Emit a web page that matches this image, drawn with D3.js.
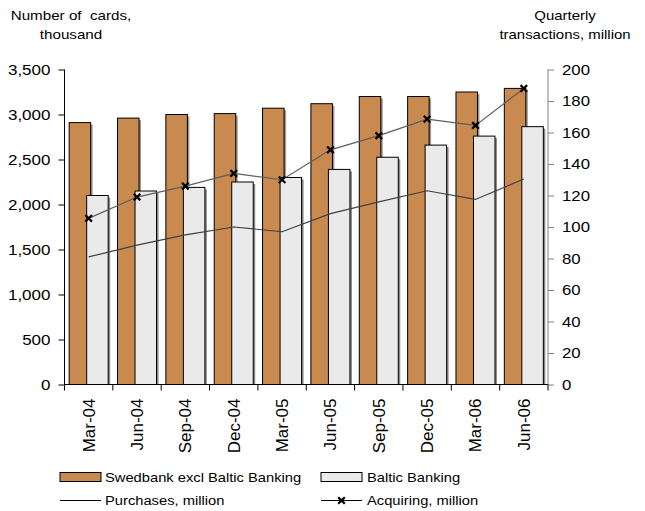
<!DOCTYPE html>
<html>
<head>
<meta charset="utf-8">
<script src="https://cdn.jsdelivr.net/npm/d3@7"></script>
<style>
  html, body { margin: 0; padding: 0; background: #fff; }
  svg { display: block; font-family: "Liberation Sans", Arial, sans-serif; }
</style>
</head>
<body>
<svg id="chart" width="645" height="511"></svg>
<script>
// Quarterly card data
const categories = ["Mar-04", "Jun-04", "Sep-04", "Dec-04", "Mar-05", "Jun-05", "Sep-05", "Dec-05", "Mar-06", "Jun-06"];
const swedbankCards = [2910, 2960, 3000, 3010, 3070, 3120, 3200, 3200, 3250, 3290];
const balticCards = [2100, 2150, 2190, 2250, 2300, 2390, 2525, 2660, 2760, 2865];
const purchases = [81, 88.5, 95, 100, 97, 108.5, 116, 123, 117.5, 130.5];
const acquiring = [105.5, 119, 126, 134, 130, 149, 158, 168.5, 164.5, 188];
const leftTicks = [0, 500, 1000, 1500, 2000, 2500, 3000, 3500];
const rightTicks = [0, 20, 40, 60, 80, 100, 120, 140, 160, 180, 200];

const ORANGE = "#C98A4F";
const LIGHT = "#EAEAEA";
const SX = 1.15; // horizontal text widening

const svg = d3.select("#chart");
const plot = { left: 64.5, right: 548, top: 69.5, bottom: 384.5 };

const x = d3.scaleBand().domain(categories).range([plot.left, plot.right]).padding(0);
const yL = d3.scaleLinear().domain([0, 3500]).range([plot.bottom, plot.top]);
const yR = d3.scaleLinear().domain([0, 200]).range([plot.bottom, plot.top]);

// bar geometry inside each band
const bw = x.bandwidth();
const barW = bw * 0.445;
const overlap = bw * 0.083;
const groupW = barW * 2 - overlap;
const pad = (bw - groupW) / 2;

const bars = svg.append("g");
// shadows first
categories.forEach((c, i) => {
  const x0 = x(c) + pad;
  const x1 = x0 + barW - overlap;
  bars.append("rect").attr("x", x0 + 2).attr("y", yL(swedbankCards[i]) + 2)
    .attr("width", barW).attr("height", plot.bottom - yL(swedbankCards[i]) - 2).attr("fill", "#9a9a9a");
  bars.append("rect").attr("x", x0).attr("y", yL(swedbankCards[i]))
    .attr("width", barW).attr("height", plot.bottom - yL(swedbankCards[i]))
    .attr("fill", ORANGE).attr("stroke", "#000").attr("stroke-width", 1);
  bars.append("rect").attr("x", x1 + 2).attr("y", yL(balticCards[i]) + 2)
    .attr("width", barW).attr("height", plot.bottom - yL(balticCards[i]) - 2).attr("fill", "#8a8a8a");
  bars.append("rect").attr("x", x1).attr("y", yL(balticCards[i]))
    .attr("width", barW).attr("height", plot.bottom - yL(balticCards[i]))
    .attr("fill", LIGHT).attr("stroke", "#000").attr("stroke-width", 1);
});

// lines on the right axis
const cx = c => x(c) + bw / 2;
const line = d3.line().x(d => cx(d.c)).y(d => yR(d.v));
const purchData = categories.map((c, i) => ({ c, v: purchases[i] }));
const acqData = categories.map((c, i) => ({ c, v: acquiring[i] }));

svg.append("path").datum(purchData).attr("d", line)
  .attr("fill", "none").attr("stroke", "#404040").attr("stroke-width", 1.2);
svg.append("path").datum(acqData).attr("d", line)
  .attr("fill", "none").attr("stroke", "#5e5e5e").attr("stroke-width", 1.2);

function cross(g, px, py, r) {
  g.append("path")
    .attr("d", `M${px - r},${py - r}L${px + r},${py + r}M${px - r},${py + r}L${px + r},${py - r}`)
    .attr("stroke", "#000").attr("stroke-width", 2.2).attr("fill", "none");
}
const marks = svg.append("g");
acqData.forEach(d => cross(marks, cx(d.c), yR(d.v), 3.3));

// axes
function widen(sel) {
  sel.selectAll("text").each(function () {
    const t = d3.select(this);
    const xv = +t.attr("x") || 0;
    t.attr("x", xv / SX).attr("transform", `scale(${SX},1)`);
  });
}

const axL = svg.append("g").attr("transform", `translate(${plot.left},0)`)
  .call(d3.axisLeft(yL).tickValues(leftTicks).tickFormat(d3.format(",")).tickSize(6).tickPadding(8));
axL.select(".domain").attr("stroke", "#000").attr("d", `M-0,${plot.top}V${plot.bottom}`);
axL.selectAll("line").attr("stroke", "#000");
axL.selectAll("text").attr("font-size", 14.8).attr("fill", "#000").attr("font-family", "Liberation Sans, Arial, sans-serif");
widen(axL);

const axR = svg.append("g").attr("transform", `translate(${plot.right},0)`)
  .call(d3.axisRight(yR).tickValues(rightTicks).tickFormat(d3.format("d")).tickSize(6).tickPadding(8));
axR.select(".domain").attr("stroke", "#808080").attr("d", `M0,${plot.top}V${plot.bottom}`);
axR.selectAll("line").attr("stroke", "#808080");
axR.selectAll("text").attr("font-size", 14.6).attr("fill", "#000").attr("font-family", "Liberation Sans, Arial, sans-serif");
widen(axR);

// category axis
const axB = svg.append("g");
axB.append("line").attr("x1", plot.left).attr("x2", plot.right)
  .attr("y1", plot.bottom).attr("y2", plot.bottom).attr("stroke", "#000");
categories.concat([null]).forEach(c => {
  const xb = c === null ? plot.right : x(c);
  axB.append("line").attr("x1", xb).attr("x2", xb)
    .attr("y1", plot.bottom).attr("y2", plot.bottom + 6).attr("stroke", "#000");
});
categories.forEach(c => {
  axB.append("text")
    .attr("transform", `translate(${cx(c) + 6},${plot.bottom + 14}) rotate(-90)`)
    .attr("text-anchor", "end").attr("font-size", 17).attr("fill", "#000")
    .text(c);
});

// axis titles
function label(txt, px, py, size, anchor) {
  svg.append("text")
    .attr("transform", `translate(${px},${py}) scale(${SX},1)`)
    .attr("text-anchor", anchor).attr("font-size", size).attr("fill", "#000")
    .attr("xml:space", "preserve").style("white-space", "pre")
    .text(txt);
}
label("Number of  cards,", 71, 20, 13.2, "middle");
label("thousand", 71, 39, 13.2, "middle");
label("Quarterly", 565, 20, 13, "middle");
label("transactions, million", 565, 38.5, 13, "middle");

// legend
const lg = svg.append("g");
lg.append("rect").attr("x", 60).attr("y", 472.5).attr("width", 41).attr("height", 9)
  .attr("fill", ORANGE).attr("stroke", "#000");
lg.append("rect").attr("x", 321).attr("y", 472.5).attr("width", 41).attr("height", 9)
  .attr("fill", LIGHT).attr("stroke", "#000");
label("Swedbank excl Baltic Banking", 105, 482, 12.8, "start");
label("Baltic Banking", 367, 482, 12.8, "start");
lg.append("line").attr("x1", 60).attr("x2", 101).attr("y1", 500.5).attr("y2", 500.5)
  .attr("stroke", "#000").attr("stroke-width", 1);
lg.append("line").attr("x1", 321).attr("x2", 362).attr("y1", 500.5).attr("y2", 500.5)
  .attr("stroke", "#000").attr("stroke-width", 1);
cross(lg, 341.5, 500.5, 3.3);
label("Purchases, million", 105, 505, 12.8, "start");
label("Acquiring, million", 367, 505, 12.8, "start");
</script>
</body>
</html>
